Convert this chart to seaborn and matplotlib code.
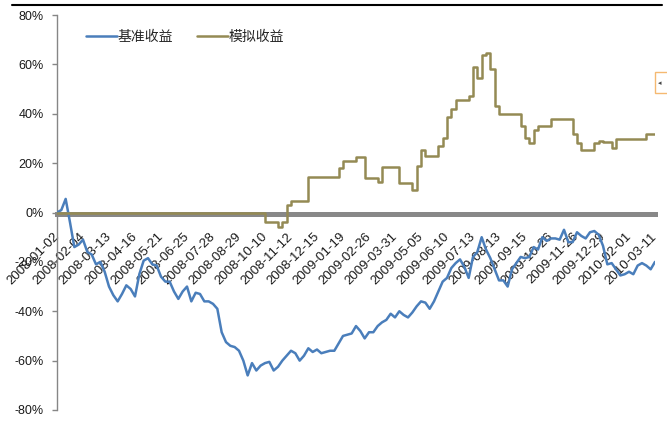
import numpy as np
import pandas as pd
import matplotlib
matplotlib.use("Agg")
import matplotlib.pyplot as plt
from matplotlib.lines import Line2D
from matplotlib.patches import Rectangle
import seaborn as sns

# 数据 (百分比), 每 6 个点对应一个日期标签
date_labels = ["2008-01-02", "2008-02-04", "2008-03-13", "2008-04-16", "2008-05-21",
               "2008-06-25", "2008-07-28", "2008-08-29", "2008-10-10", "2008-11-12",
               "2008-12-15", "2009-01-19", "2009-02-26", "2009-03-31", "2009-05-05",
               "2009-06-10", "2009-07-13", "2009-08-13", "2009-09-15", "2009-10-26",
               "2009-11-26", "2009-12-29", "2010-02-01", "2010-03-11"]

benchmark = [0, 1, 5.5, -4, -14, -13, -11, -16, -17, -21,
             -20, -24, -30, -33.5, -36, -33, -29.5, -31, -34, -25,
             -19.5, -18.5, -21, -21.5, -26, -28, -28, -32, -35, -32,
             -30, -36, -32.5, -33, -36, -36, -37, -39, -48.5, -52.5,
             -54, -54.5, -56, -60, -66, -61, -64, -62, -61, -60.5,
             -64, -62.5, -60, -58, -56, -57, -60, -58, -55, -56.5,
             -55.5, -57, -56.5, -56, -56, -53, -50, -49.5, -49, -46,
             -48, -51, -48.5, -48.5, -46, -44.5, -43.5, -41, -42.5, -40,
             -41.5, -42.5, -40.5, -38, -36, -36.5, -39, -36, -32, -28,
             -26.5, -22.5, -20.5, -19, -22, -26.5, -18, -16, -10, -15,
             -18.5, -23, -27.5, -27.5, -30, -23, -20.5, -18, -18.5, -18,
             -14, -15, -10, -11.5, -10.5, -10.5, -11, -7, -12, -12,
             -8, -9.5, -10.5, -8, -7.5, -9, -13.5, -21, -20.5, -23,
             -25.5, -25, -24, -25, -21.5, -20.5, -21.5, -23, -20]

simulated = [0] * 48 + [
             -4, -4, -4, -6, -4, 3, 4.5, 4.5, 4.5, 4.5,
             14.5, 14.5, 14.5, 14.5, 14.5, 14.5, 14.5, 18, 21, 21,
             21, 22.6, 22.6, 14, 14, 14, 12.5, 18.6, 18.6, 18.6,
             18.6, 12, 12, 12, 9, 19, 25.5, 23, 23, 23,
             27, 30, 38.5, 42, 45.7, 45.7, 45.7, 47, 59, 54.6,
             64, 64.5, 58, 43, 39.7, 39.7, 39.7, 39.7, 39.7, 35,
             30, 28, 33.6, 35, 35, 35, 38, 38, 38, 38,
             38, 32, 28, 25.5, 25.5, 25.5, 28, 29, 28.7, 28.7,
             26, 29.6, 29.6, 29.6, 29.6, 29.6, 29.6, 29.6, 32, 32,
             32]

ytick_values = [-80, -60, -40, -20, 0, 20, 40, 60, 80]
ytick_labels = ["-80%", "-60%", "-40%", "-20%", "0%", "20%", "40%", "60%", "80%"]

df = pd.DataFrame({"day": np.arange(len(benchmark)),
                   "基准收益": benchmark,
                   "模拟收益": simulated})

# %%
sns.set_theme(style="white")
plt.rcParams["font.family"] = ["Liberation Sans", "Noto Sans CJK SC", "DejaVu Sans"]

fig = plt.figure(figsize=(6.67, 4.43), dpi=100)
ax = fig.add_axes([57 / 667, 1 - 410 / 443, 598 / 667, 395 / 443])

sns.lineplot(data=df, x="day", y="基准收益", ax=ax, color="#4A7EBB",
             linewidth=1.8, label="基准收益", zorder=3)
sns.lineplot(data=df, x="day", y="模拟收益", ax=ax, color="#948A54",
             linewidth=1.8, label="模拟收益", drawstyle="steps-post", zorder=4)

ax.set_xlim(0, len(benchmark) - 1)
ax.set_ylim(-80, 80)
ax.set_xlabel("")
ax.set_ylabel("")

# 坐标轴线 (先设置位置, 否则会重置刻度)
ax.spines["bottom"].set_position(("data", -0.6))
ax.spines["bottom"].set_linewidth(3.6)
ax.spines["bottom"].set_color("#888888")
ax.spines["bottom"].set_zorder(2)
ax.spines["left"].set_color("#868686")
ax.spines["left"].set_linewidth(1)
ax.spines["top"].set_visible(False)
ax.spines["right"].set_visible(False)
ax.grid(False)

# y 轴
ax.set_yticks(ytick_values)
ax.set_yticklabels(ytick_labels)
ax.tick_params(axis="y", direction="out", length=3.6, width=1, color="#868686",
               pad=6, left=True, labelsize=9, labelcolor="#1a1a1a")

# x 轴: 灰色粗线放在 0 处
step = (len(benchmark) - 1) / (len(date_labels) - 1)
ax.set_xticks([i * step for i in range(len(date_labels))])
ax.set_xticklabels(date_labels)
ax.tick_params(axis="x", which="major", length=0, pad=15, bottom=True,
               labelsize=9.5, labelcolor="#1a1a1a")
ax.set_xticks(np.arange(1.0, 138, 6.4), minor=True)
ax.tick_params(axis="x", which="minor", direction="out", length=2.5, width=1.2,
               color="white", bottom=True)

ax.legend(loc="upper left", bbox_to_anchor=(86 / 667, 1 - 30 / 443),
          bbox_transform=fig.transFigure, ncol=2, frameon=False, fontsize=10,
          handlelength=2.2, handletextpad=0.1, columnspacing=1.7,
          borderpad=0, borderaxespad=0)

# 顶部黑线和右侧小框
fig.add_artist(Line2D([12 / 667, 662 / 667], [1 - 5 / 443, 1 - 5 / 443],
                      color="black", linewidth=1.5))
fig.add_artist(Rectangle((655 / 667, 1 - 93 / 443), 14 / 667, 21 / 443,
                         transform=fig.transFigure, facecolor="white",
                         edgecolor="#F5B971", linewidth=1))
fig.text(658 / 667, 1 - 83 / 443, "◂", fontsize=5, color="#444444",
         va="center", family="DejaVu Sans")

plt.setp(ax.get_xticklabels(), rotation=45, ha="right", va="center",
         rotation_mode="anchor")

fig.savefig("out.png", dpi=100)
